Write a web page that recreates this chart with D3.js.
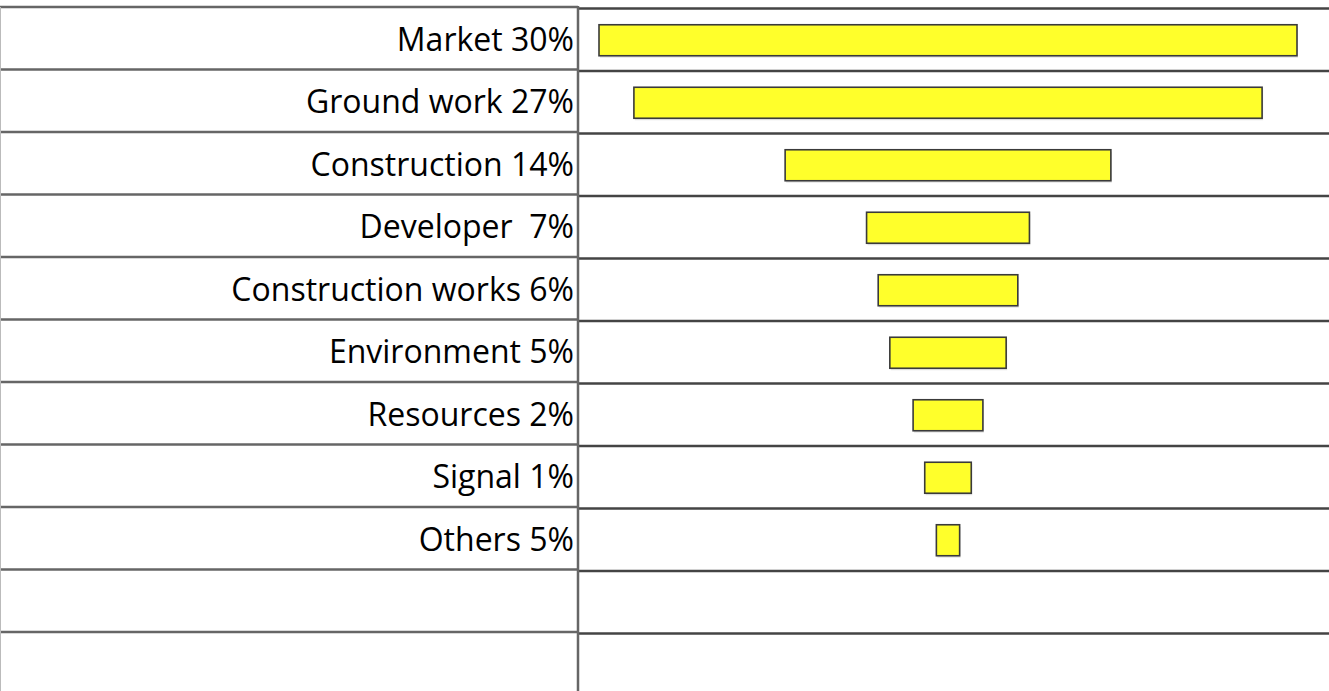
<!DOCTYPE html>
<html>
<head>
<meta charset="utf-8">
<script src="https://cdn.jsdelivr.net/npm/d3@7"></script>
<style>
  body { margin: 0; background: #fff; }
  svg { display: block; }
</style>
</head>
<body>
<div id="chart"></div>
<script>
// chart values
const categories = ["Market", "Ground work", "Construction", "Developer ", "Construction works", "Environment", "Resources", "Signal", "Others"];
const shares = [30, 27, 14, 7, 6, 5, 2, 1, 5];          // percent shown in the label
const barValues = [30, 27, 14, 7, 6, 5, 3, 2, 1];       // bar length as drawn
const blankRows = 2;

const width = 1329, height = 691;
const divX = 578, centerX = 948;

const svg = d3.select("#chart").append("svg").attr("width", width).attr("height", height);

const rowKeys = d3.range(categories.length + blankRows);
const y = d3.scaleBand().domain(rowKeys).range([7, 7 + 62.5 * rowKeys.length]);
const x = d3.scaleLinear().domain([0, 30]).range([0, 698]);

// left table
const gl = svg.append("g");
gl.selectAll("line.row").data(rowKeys).enter().append("line")
    .attr("x1", 0).attr("x2", divX)
    .attr("y1", d => y(d)).attr("y2", d => y(d))
    .attr("stroke", "#666").attr("stroke-width", 2.5);
gl.append("line").attr("x1", 0.5).attr("x2", 0.5).attr("y1", y(0)).attr("y2", height)
    .attr("stroke", "#bbb").attr("stroke-width", 1);

// right panel
const gr = svg.append("g");
gr.selectAll("line.row").data(rowKeys).enter().append("line")
    .attr("x1", divX).attr("x2", width)
    .attr("y1", d => y(d) + 1.5).attr("y2", d => y(d) + 1.5)
    .attr("stroke", "#444").attr("stroke-width", 2.5);
svg.append("line").attr("x1", divX).attr("x2", divX).attr("y1", y(0) - 1).attr("y2", height)
    .attr("stroke", "#666").attr("stroke-width", 2.5);

// labels
svg.selectAll("text.lab").data(categories).enter().append("text")
    .attr("x", 574)
    .attr("y", (d, i) => y(i) + y.bandwidth() / 2 + 12.5)
    .attr("text-anchor", "end")
    .attr("font-family", "'Open Sans', sans-serif")
    .attr("font-size", 32)
    .attr("fill", "#000")
    .style("white-space", "pre")
    .text((d, i) => d + " " + shares[i] + "%");

// bars
const bh = 31;
const bars = svg.append("g");
bars.selectAll("rect.shadow").data(barValues).enter().append("rect")
    .attr("x", d => centerX - x(d) / 2 + 1)
    .attr("y", (d, i) => y(i) + y.bandwidth() / 2 - bh / 2 + 4)
    .attr("width", d => x(d)).attr("height", bh)
    .attr("fill", "#ccc").attr("opacity", 0.5);
bars.selectAll("rect.bar").data(barValues).enter().append("rect")
    .attr("x", d => centerX - x(d) / 2)
    .attr("y", (d, i) => y(i) + y.bandwidth() / 2 - bh / 2 + 2)
    .attr("width", d => x(d)).attr("height", bh)
    .attr("fill", "#ffff2b").attr("stroke", "#3a3a3a").attr("stroke-width", 1.6);
</script>
</body>
</html>
